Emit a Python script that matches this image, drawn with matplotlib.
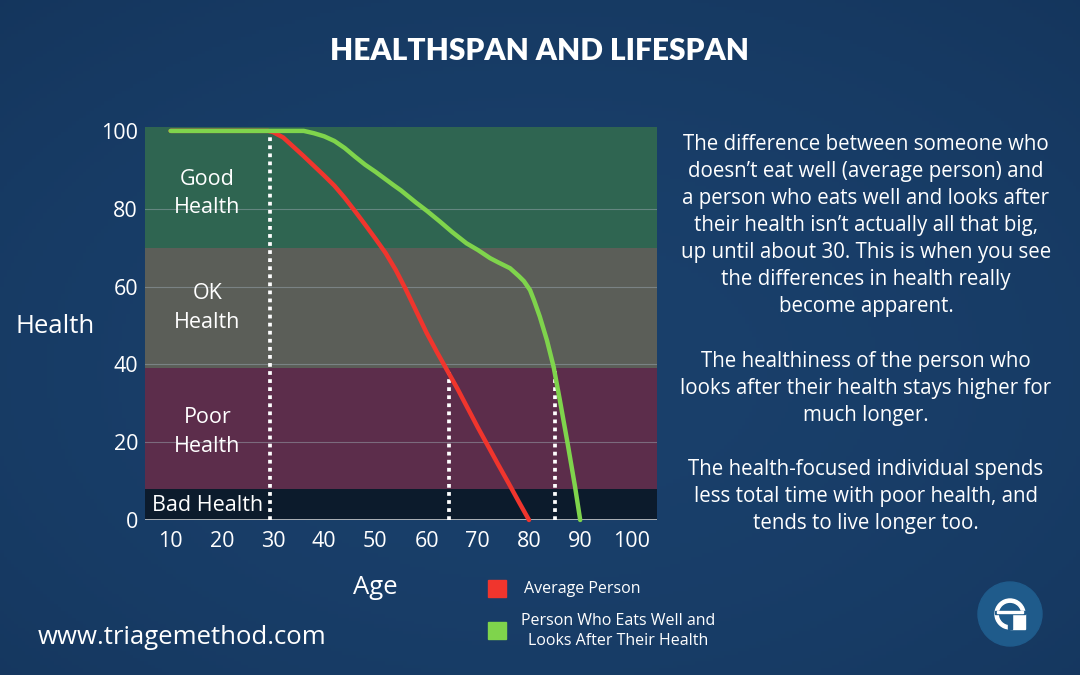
"""
plot.py
Healthspan and lifespan chart, saved as out.png.
"""
import numpy as np
import matplotlib.pyplot as plt
from matplotlib.patches import Circle, Rectangle, Wedge

# data
avg_age = [10, 20, 29, 30, 32, 34, 36, 38, 40, 42, 44, 46, 48, 50, 52, 54,
           56, 58, 60, 62, 64, 66, 68, 70, 72, 74, 76, 78, 80]
avg_health = [100, 100, 100, 99.7, 98.3, 95.9, 93.5, 91, 88.5, 85.9, 82.8,
              79.4, 75.9, 72.3, 68.6, 64.2, 59.1, 53.6, 48.1, 43.2, 38.5,
              33.8, 28.8, 23.8, 19, 14.2, 9.5, 4.7, 0]

well_age = [10, 20, 30, 36, 38, 40, 42, 44, 46, 48, 50, 53.5, 55, 58, 60,
            62.6, 65, 67.8, 70, 72.4, 74, 76.3, 78, 79, 80.2, 81, 82.1, 83.5,
            84.8, 86, 87.5, 89, 90]
well_health = [100, 100, 100, 100, 99.4, 98.6, 97.4, 95.6, 93.4, 91.3, 89.5,
               86.1, 84.7, 81.5, 79.5, 76.7, 74, 71.1, 69.4, 67.3, 66.2, 64.7,
               62.7, 61.4, 59.1, 56.4, 52.3, 46.2, 39.4, 31, 20, 8.5, 0]

# health zones
zone_bottom = [70, 39, 8, 0]
zone_top = [101, 70, 39, 8]
zone_labels = ["Good\nHealth", "OK\nHealth", "Poor\nHealth", "Bad Health"]
zone_label_y = [84, 54.5, 22.6, 3.6]
zone_colors = ["#2f6551", "#5b5e58", "#5c2d4b", "#0c1b2c"]

# dotted marker lines
marker_x = [29.5, 64.4, 85.1]
marker_top = [100, 38, 38.2]

x_ticks = [10, 20, 30, 40, 50, 60, 70, 80, 90, 100]
y_ticks = [0, 20, 40, 60, 80, 100]

side_text = (
    "The difference between someone who\n"
    "doesn\u2019t eat well (average person) and\n"
    "a person who eats well and looks after\n"
    "their health isn\u2019t actually all that big,\n"
    "up until about 30. This is when you see\n"
    "the differences in health really\n"
    "become apparent.\n"
    "\n"
    "The healthiness of the person who\n"
    "looks after their health stays higher for\n"
    "much longer.\n"
    "\n"
    "The health-focused individual spends\n"
    "less total time with poor health, and\n"
    "tends to live longer too."
)

font = "Open Sans"
white = "white"
red = "#f0352d"
green = "#7fd44c"

fig = plt.figure(figsize=(10.8, 6.75), dpi=100)

# background
bg = fig.add_axes([0, 0, 1, 1])
yy, xx = np.mgrid[0:1:200j, 0:1:300j]
shade = 1 - 0.7 * ((xx - 0.5) ** 2 + (yy - 0.55) ** 2)
c0 = np.array([0.05, 0.15, 0.28])
c1 = np.array([0.10, 0.25, 0.42])
img = c0 + (c1 - c0) * shade[..., None]
bg.imshow(np.clip(img, 0, 1), extent=[0, 1, 0, 1], aspect="auto")
bg.set_axis_off()

# main chart
ax = fig.add_axes([145 / 1080, 155 / 675, 512 / 1080, 393 / 675])
ax.set_xlim(5, 105)
ax.set_ylim(0, 101)

for b, t, c in zip(zone_bottom, zone_top, zone_colors):
    ax.axhspan(b, t, color=c, zorder=0, lw=0)

for gy in [20, 40, 60, 80]:
    ax.axhline(gy, color="#9aa7b0", lw=0.8, alpha=0.5, zorder=1)
ax.axhline(0, color="#c8ccd0", lw=1.2, zorder=1)

for lab, ly in zip(zone_labels, zone_label_y):
    ax.text(17.2, ly, lab, color=white, fontsize=15.5, family=font,
            ha="center", va="center", linespacing=1.45, zorder=3)

ax.vlines(marker_x, 0, marker_top, colors=white, linestyles=(0, (1, 1.15)),
          lw=2.7, zorder=4)

ax.plot(avg_age, avg_health, color=red, lw=3.2, zorder=5,
        solid_capstyle="round", solid_joinstyle="round", clip_on=False)
ax.plot(well_age, well_health, color=green, lw=3.2, zorder=5,
        solid_capstyle="round", solid_joinstyle="round", clip_on=False)

ax.set_xticks(x_ticks)
ax.set_yticks(y_ticks)
ax.tick_params(length=0, colors=white, labelsize=15.5, pad=5)
ax.tick_params(axis="x", pad=8)
for lbl in ax.get_xticklabels() + ax.get_yticklabels():
    lbl.set_family(font)
for s in ax.spines.values():
    s.set_visible(False)

# titles and labels
fig.text(540 / 1080, 1 - 51 / 675, "HEALTHSPAN AND LIFESPAN", color=white,
         fontsize=21.5, family="Lato", weight="heavy", ha="center", va="center")
fig.text(55 / 1080, 1 - 326 / 675, "Health", color=white, fontsize=18.5,
         family=font, ha="center", va="center")
fig.text(375 / 1080, 1 - 587 / 675, "Age", color=white, fontsize=18.5,
         family=font, ha="center", va="center")
fig.text(182 / 1080, 1 - 638 / 675, "www.triagemethod.com", color=white,
         fontsize=18.5, family=font, ha="center", va="center")

fig.text(866 / 1080, 1 - 134 / 675, side_text, color=white, fontsize=14.8,
         family=font, ha="center", va="top", linespacing=1.38)

# legend
fig.patches.append(Rectangle((488 / 1080, 1 - 597 / 675), 18 / 1080, 17 / 675,
                             transform=fig.transFigure, color=red))
fig.patches.append(Rectangle((488 / 1080, 1 - 639 / 675), 18 / 1080, 17 / 675,
                             transform=fig.transFigure, color=green))
fig.text(582 / 1080, 1 - 589 / 675, "Average Person", color=white,
         fontsize=11.5, family=font, ha="center", va="center")
fig.text(618 / 1080, 1 - 631 / 675,
         "Person Who Eats Well and\nLooks After Their Health", color=white,
         fontsize=11.5, family=font, ha="center", va="center", linespacing=1.35)

# logo
lg = fig.add_axes([970 / 1080, 1 - 654 / 675, 80 / 1080, 80 / 675])
lg.set_xlim(-40, 40)
lg.set_ylim(-40, 40)
lg.set_aspect("equal")
lg.set_axis_off()
lg.add_patch(Circle((0, 0), 32, color="#1f5b8b"))
lg.add_patch(Wedge((0, 0), 15, 0, 360, width=3.2, color=white))
lg.add_patch(Rectangle((0, -15), 15, 15, color=white))
lg.add_patch(Rectangle((-15, 0.5), 30, 3, color="#1f5b8b"))
lg.add_patch(Rectangle((-1.6, -15), 3.2, 17, color="#1f5b8b"))
lg.add_patch(Rectangle((-13, 1), 26, 2.5, color=white))

fig.savefig("out.png", dpi=100)
plt.close(fig)
